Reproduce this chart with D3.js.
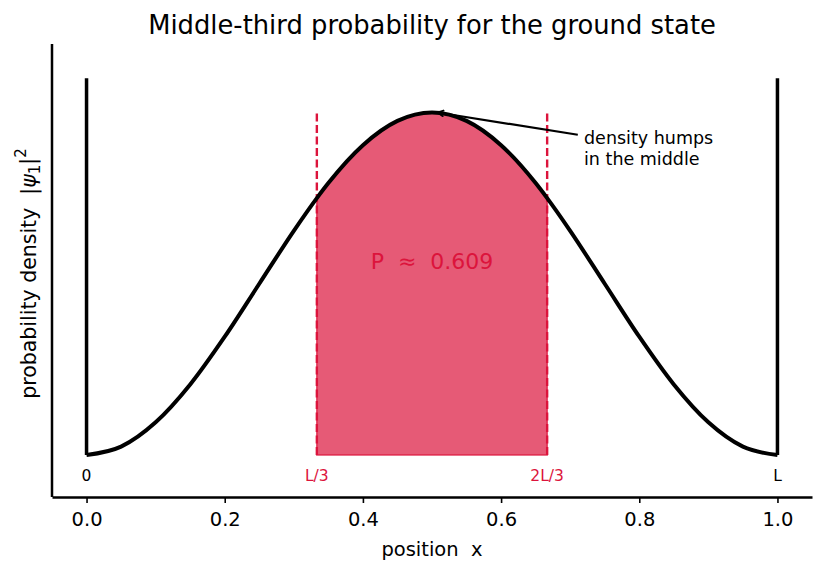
<!DOCTYPE html>
<html>
<head>
<meta charset="utf-8">
<script src="https://cdn.jsdelivr.net/npm/d3@7"></script>
<style>
  body { margin: 0; background: #fff; }
  svg { font-family: "DejaVu Sans", sans-serif; }
  text { white-space: pre; }
</style>
</head>
<body>
<svg width="825" height="573"></svg>
<script>
// positions along the well (x/L) and density
var xs = [0, 0.05, 0.10, 0.15, 0.20, 0.25, 0.30, 1/3, 0.35, 0.40, 0.45, 0.50,
          0.55, 0.60, 0.65, 2/3, 0.70, 0.75, 0.80, 0.85, 0.90, 0.95, 1.0];
var density = [0, 0.049, 0.191, 0.412, 0.691, 1.0, 1.309, 1.5, 1.588, 1.809, 1.951, 2.0,
               1.951, 1.809, 1.588, 1.5, 1.309, 1.0, 0.691, 0.412, 0.191, 0.049, 0];
var xTicks = [0, 0.2, 0.4, 0.6, 0.8, 1.0];
var bounds = [1/3, 2/3];
var boundLabels = ["L/3", "2L/3"];
var wallLabels = ["0", "L"];
var wallTop = 2.2;
var probLabel = "P  \u2248  0.609";

var svg = d3.select("svg"),
    margin = {top: 44, right: 13, bottom: 76, left: 52},
    width = +svg.attr("width") - margin.left - margin.right,
    height = +svg.attr("height") - margin.top - margin.bottom;

var x = d3.scaleLinear().domain([-0.05, 1.05]).range([0, width]),
    y = d3.scaleLinear().domain([-0.245, 2.4]).range([height, 0]);

var g = svg.append("g")
    .attr("transform", "translate(" + margin.left + "," + margin.top + ")");

var data = xs.map(function(d, i) { return {x: d, y: density[i]}; });
var middle = data.filter(function(d) { return d.x >= bounds[0] - 1e-9 && d.x <= bounds[1] + 1e-9; });

// shaded middle third
g.append("path")
    .datum(middle)
    .attr("fill", "crimson")
    .attr("fill-opacity", 0.7)
    .attr("stroke", "crimson")
    .attr("stroke-opacity", 0.8)
    .attr("stroke-width", 1.5)
    .attr("d", d3.area()
      .x(function(d) { return x(d.x); })
      .y0(y(0))
      .y1(function(d) { return y(d.y); })
      .curve(d3.curveMonotoneX));

// dashed boundaries
g.selectAll(".bound")
  .data(bounds)
  .enter().append("line")
    .attr("x1", function(d) { return x(d); })
    .attr("x2", function(d) { return x(d); })
    .attr("y1", y(0))
    .attr("y2", y(2.0))
    .attr("stroke", "crimson")
    .attr("stroke-width", 2.4)
    .attr("stroke-dasharray", "8,3.5");

// walls
g.selectAll(".wall")
  .data([0, 1])
  .enter().append("line")
    .attr("x1", function(d) { return x(d); })
    .attr("x2", function(d) { return x(d); })
    .attr("y1", y(0))
    .attr("y2", y(wallTop))
    .attr("stroke", "#000")
    .attr("stroke-width", 3.5);

// density curve
g.append("path")
    .datum(data)
    .attr("fill", "none")
    .attr("stroke", "#000")
    .attr("stroke-width", 4)
    .attr("stroke-linejoin", "round")
    .attr("d", d3.line()
      .x(function(d) { return x(d.x); })
      .y(function(d) { return y(d.y); })
      .curve(d3.curveMonotoneX));

g.append("text")
    .attr("x", x(0.5))
    .attr("y", y(1.13))
    .attr("dy", "0.35em")
    .attr("text-anchor", "middle")
    .attr("fill", "crimson")
    .style("font-size", "22px")
    .text(probLabel);

// labels under the well
g.selectAll(".wl")
  .data([0, 1])
  .enter().append("text")
    .attr("x", function(d) { return x(d); })
    .attr("y", y(-0.12))
    .attr("dy", "0.35em")
    .attr("text-anchor", "middle")
    .style("font-size", "15.5px")
    .text(function(d, i) { return wallLabels[i]; });

g.selectAll(".bl")
  .data(bounds)
  .enter().append("text")
    .attr("x", function(d) { return x(d); })
    .attr("y", y(-0.12))
    .attr("dy", "0.35em")
    .attr("text-anchor", "middle")
    .attr("fill", "crimson")
    .style("font-size", "15.5px")
    .text(function(d, i) { return boundLabels[i]; });

// annotation
svg.append("defs").append("marker")
    .attr("id", "head")
    .attr("viewBox", "0 0 10 10")
    .attr("refX", 9).attr("refY", 5)
    .attr("markerWidth", 8).attr("markerHeight", 8)
    .attr("markerUnits", "userSpaceOnUse")
    .attr("orient", "auto")
  .append("path")
    .attr("d", "M1,1 L9,5 L1,9")
    .attr("fill", "none")
    .attr("stroke", "#000")
    .attr("stroke-width", 2.2);

g.append("line")
    .attr("x1", x(0.711))
    .attr("y1", y(1.87))
    .attr("x2", x(0.508))
    .attr("y2", y(2.0))
    .attr("stroke", "#000")
    .attr("stroke-width", 2.2)
    .attr("marker-end", "url(#head)");

var ann = g.append("text")
    .attr("x", x(0.72))
    .attr("y", y(1.815))
    .style("font-size", "17.5px");
ann.append("tspan").attr("x", x(0.72)).attr("dy", "0em").text("density humps");
ann.append("tspan").attr("x", x(0.72)).attr("dy", "1.2em").text("in the middle");

// axes
var xAxis = g.append("g")
    .attr("transform", "translate(0," + height + ")")
    .call(d3.axisBottom(x).tickValues(xTicks).tickFormat(d3.format(".1f")).tickSize(6).tickSizeOuter(0));
xAxis.select(".domain").attr("stroke-width", 2.5);
xAxis.selectAll(".tick line").attr("stroke-width", 1.6);
xAxis.selectAll(".tick text").attr("dy", "1.0em").style("font-size", "19.5px")
    .style("font-family", "DejaVu Sans");

g.append("line")
    .attr("x1", 0).attr("x2", 0)
    .attr("y1", 0).attr("y2", height)
    .attr("stroke", "#000")
    .attr("stroke-width", 2.5);

svg.append("text")
    .attr("x", margin.left + width / 2)
    .attr("y", 556)
    .attr("text-anchor", "middle")
    .style("font-size", "19.5px")
    .text("position  x");

var yl = svg.append("text")
    .attr("transform", "translate(36," + (margin.top + height / 2 + 3) + ") rotate(-90)")
    .attr("text-anchor", "middle")
    .style("font-size", "20.5px");
yl.append("tspan").text("probability density  |");
yl.append("tspan").style("font-style", "italic").text("\u03c8");
yl.append("tspan").attr("dy", "0.25em").style("font-size", "15px").text("1");
yl.append("tspan").attr("dy", "-0.25em").text("|");
yl.append("tspan").attr("dy", "-0.55em").style("font-size", "15px").text("2");

svg.append("text")
    .attr("x", margin.left + width / 2)
    .attr("y", 34)
    .attr("text-anchor", "middle")
    .style("font-size", "25.8px")
    .text("Middle-third probability for the ground state");
</script>
</body>
</html>
